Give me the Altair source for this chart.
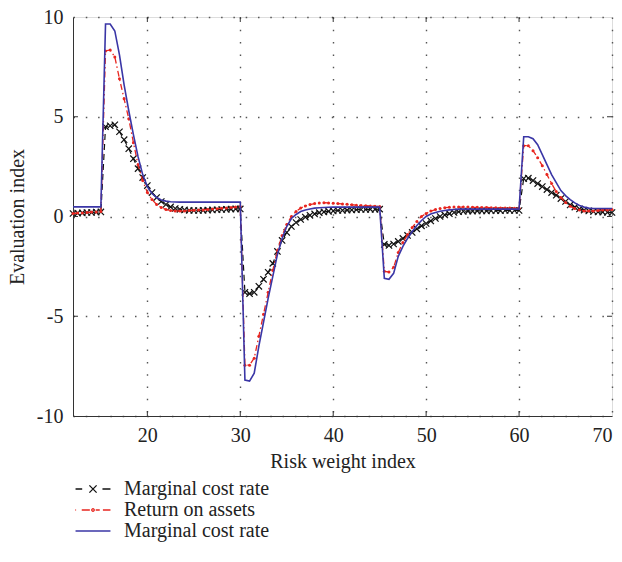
import altair as alt
import numpy as np
import pandas as pd

# Risk weight index (x) sampled every 0.5 from 12 to 70
risk_index = np.arange(12, 70.001, 0.5)

# Series values (segments: 12-15, 15.5-30, 30.5-45, 45.5-60, 60.5-70)
marginal_cost_dashed = [
    0.15, 0.17, 0.18, 0.2, 0.2, 0.22, 0.23,
    4.5, 4.55, 4.6, 4.25, 3.85, 3.4, 2.9, 2.4, 1.95, 1.55, 1.2, 0.95, 0.75, 0.6, 0.48,
    0.4, 0.36, 0.33, 0.31, 0.3, 0.3, 0.31, 0.32, 0.33, 0.34, 0.35, 0.36, 0.37, 0.38, 0.38,
    -3.8, -3.87, -3.8, -3.5, -3.15, -2.8, -2.35, -1.75, -1.2, -0.8, -0.5, -0.3, -0.15, -0.03, 0.06,
    0.13, 0.19, 0.23, 0.26, 0.28, 0.3, 0.31, 0.32, 0.33, 0.34, 0.35, 0.35, 0.36, 0.36, 0.37,
    -1.4, -1.45, -1.38, -1.25, -1.1, -0.95, -0.8, -0.62, -0.47, -0.35, -0.22, -0.1, 0.0, 0.08, 0.14,
    0.2, 0.24, 0.26, 0.27, 0.27, 0.28, 0.28, 0.28, 0.29, 0.29, 0.29, 0.3, 0.3, 0.3, 0.3,
    1.9, 1.92, 1.8, 1.65, 1.5, 1.35, 1.2, 1.07, 0.9, 0.75, 0.58, 0.47, 0.38, 0.32, 0.28,
    0.25, 0.23, 0.22, 0.21, 0.2,
]
return_on_assets = [
    0.15, 0.17, 0.18, 0.2, 0.22, 0.23, 0.25,
    8.3, 8.35, 8.0, 6.9, 5.9, 4.9, 3.7, 2.6, 1.8, 1.2, 0.85, 0.6, 0.45, 0.35, 0.3,
    0.28, 0.27, 0.28, 0.3, 0.31, 0.32, 0.33, 0.35, 0.37, 0.39, 0.41, 0.43, 0.45, 0.47, 0.5,
    -7.45, -7.45, -7.1, -6.0, -4.9, -3.8, -2.7, -1.7, -0.95, -0.4, 0.0, 0.25, 0.42, 0.53, 0.6,
    0.65, 0.68, 0.69, 0.68, 0.67, 0.65, 0.63, 0.61, 0.59, 0.57, 0.55, 0.54, 0.53, 0.52, 0.5,
    -2.75, -2.78, -2.55, -1.8, -1.3, -0.9, -0.55, -0.25, 0.0, 0.15, 0.27, 0.35, 0.4, 0.44, 0.46,
    0.47, 0.47, 0.47, 0.47, 0.46, 0.46, 0.45, 0.45, 0.44, 0.44, 0.43, 0.42, 0.42, 0.41, 0.41,
    3.55, 3.55, 3.3, 2.95, 2.55, 2.1, 1.65, 1.25, 0.95, 0.7, 0.52, 0.4, 0.32, 0.28, 0.27,
    0.28, 0.3, 0.32, 0.33, 0.35,
]
marginal_cost_solid = [
    0.48, 0.48, 0.48, 0.48, 0.48, 0.48, 0.48,
    9.65, 9.65, 9.3, 8.1, 6.6, 5.3, 4.1, 3.0, 2.1, 1.5, 1.15, 0.95, 0.83, 0.77, 0.74,
    0.73, 0.72, 0.72, 0.72, 0.72, 0.72, 0.72, 0.72, 0.72, 0.72, 0.72, 0.72, 0.72, 0.72, 0.72,
    -8.2, -8.25, -7.85, -6.5, -5.3, -4.1, -3.0, -1.9, -1.1, -0.5, -0.1, 0.1, 0.25, 0.33, 0.38,
    0.42, 0.44, 0.45, 0.46, 0.47, 0.47, 0.47, 0.47, 0.47, 0.47, 0.47, 0.47, 0.47, 0.47, 0.47,
    -3.1, -3.15, -2.85, -2.0, -1.5, -1.1, -0.75, -0.45, -0.2, 0.0, 0.12, 0.2, 0.26, 0.3, 0.33,
    0.35, 0.37, 0.37, 0.37, 0.37, 0.37, 0.37, 0.37, 0.37, 0.37, 0.37, 0.37, 0.37, 0.37, 0.37,
    4.0, 4.0, 3.9, 3.6, 3.1, 2.6, 2.1, 1.7, 1.3, 1.05, 0.85, 0.68, 0.55, 0.47, 0.42,
    0.4, 0.4, 0.4, 0.4, 0.4,
]

x_tick_values = [20, 30, 40, 50, 60, 70]
y_tick_values = [-10, -5, 0, 5, 10]
inner_x_ticks = [20, 30, 40, 50, 60]
inner_y_ticks = [-5, 0, 5]

series_keys = ["mcr_dashed", "roa", "mcr_solid"]
series_labels = ["Marginal cost rate", "Return on assets", "Marginal cost rate"]
series_colors = ["#111111", "#e8261f", "#3a36a6"]

W, H = 539, 399
FONT = "Liberation Serif"
FS = 20

df = pd.DataFrame({
    "x": np.concatenate([risk_index] * 3),
    "value": marginal_cost_dashed + return_on_assets + marginal_cost_solid,
    "series": sum([[k] * len(risk_index) for k in series_keys], []),
})

x_scale = alt.Scale(domain=[12, 70], nice=False, zero=False)
y_scale = alt.Scale(domain=[-10, 10], nice=False, zero=False)
common_axis = dict(grid=True, gridDash=[1.5, 10.8], gridColor="#555", gridWidth=1.4,
                   tickSize=0, domainColor="#333", labelExpr="datum.value + ''",
                   labelFont=FONT, labelFontSize=FS, labelColor="#222",
                   titleFont=FONT, titleFontSize=FS, titleFontWeight="normal", titleColor="#222")
x_axis = alt.Axis(values=x_tick_values, title="Risk weight index",
                  labelPadding=9, titlePadding=6, **common_axis)
y_axis = alt.Axis(values=y_tick_values, title="Evaluation index",
                  labelPadding=10, titlePadding=9, **common_axis)

X = alt.X("x:Q", scale=x_scale, axis=x_axis)
Y = alt.Y("value:Q", scale=y_scale, axis=y_axis)

base = alt.Chart(df)

black_line = base.transform_filter(alt.datum.series == "mcr_dashed").mark_line(
    color=series_colors[0], strokeDash=[6, 4], strokeWidth=1.2).encode(x=X, y=Y)
black_pts = base.transform_filter(alt.datum.series == "mcr_dashed").mark_point(
    shape="M-1,-1L1,1M-1,1L1,-1", color=series_colors[0], size=40, strokeWidth=1.2,
    filled=False, opacity=1).encode(x=X, y=Y)
red_line = base.transform_filter(alt.datum.series == "roa").mark_line(
    color=series_colors[1], strokeDash=[6, 3, 1.5, 3], strokeWidth=1.3).encode(x=X, y=Y)
red_pts = base.transform_filter(alt.datum.series == "roa").mark_circle(
    color=series_colors[1], size=9, opacity=1).encode(x=X, y=Y)
blue_line = base.transform_filter(alt.datum.series == "mcr_solid").mark_line(
    color=series_colors[2], strokeWidth=1.6).encode(x=X, y=Y)

# inward tick marks on all four sides
xt = pd.DataFrame({"x": inner_x_ticks})
yt = pd.DataFrame({"value": inner_y_ticks})
tick_style = dict(color="#333", strokeWidth=1)
xt_top = alt.Chart(xt).mark_rule(**tick_style).encode(x=X, y=alt.value(0), y2=alt.value(5))
xt_bot = alt.Chart(xt).mark_rule(**tick_style).encode(x=X, y=alt.value(H - 5), y2=alt.value(H))
yt_left = alt.Chart(yt).mark_rule(**tick_style).encode(y=Y, x=alt.value(0), x2=alt.value(5))
yt_right = alt.Chart(yt).mark_rule(**tick_style).encode(y=Y, x=alt.value(W - 5), x2=alt.value(W))

# legend
legend_paths = [
    "M-1.94,0L-1.2,0M-0.4,-0.4L0.4,0.4M-0.4,0.4L0.4,-0.4M1.05,0L1.94,0",
    "M-1.96,0L-1.88,0M-1.25,0L-0.35,0M0.14,0A0.14,0.14 0 1,1 -0.14,0A0.14,0.14 0 1,1 0.14,0M0.3,0L0.75,0M1.1,0L1.94,0",
    "M-1.94,0L1.94,0",
]
label_expr = "datum.value == 'roa' ? 'Return on assets' : 'Marginal cost rate'"
leg = alt.Legend(title=None, orient="none", legendX=10, legendY=462, direction="vertical",
                 symbolSize=324, symbolStrokeWidth=1.3, symbolOpacity=1,
                 labelExpr=label_expr, labelFont=FONT, labelFontSize=FS, labelColor="#222",
                 labelOffset=21, rowPadding=1, padding=0)
legend_layer = alt.Chart(pd.DataFrame({"series": series_keys})).mark_point(
    filled=False, opacity=0).encode(
    x=alt.value(0), y=alt.value(0),
    color=alt.Color("series:N", scale=alt.Scale(domain=series_keys, range=series_colors), legend=leg),
    shape=alt.Shape("series:N", scale=alt.Scale(domain=series_keys, range=legend_paths), legend=leg),
)

chart = alt.layer(
    black_line, black_pts, red_line, red_pts, blue_line,
    xt_top, xt_bot, yt_left, yt_right, legend_layer,
).properties(
    width=W, height=H,
    padding={"left": 73, "top": 17, "right": 10, "bottom": 146},
    autosize=alt.AutoSizeParams(type="none"),
).configure_view(stroke="#333", strokeWidth=1).configure(background="white")

chart.save("out.html", embed_options={"renderer": "svg", "actions": False})
